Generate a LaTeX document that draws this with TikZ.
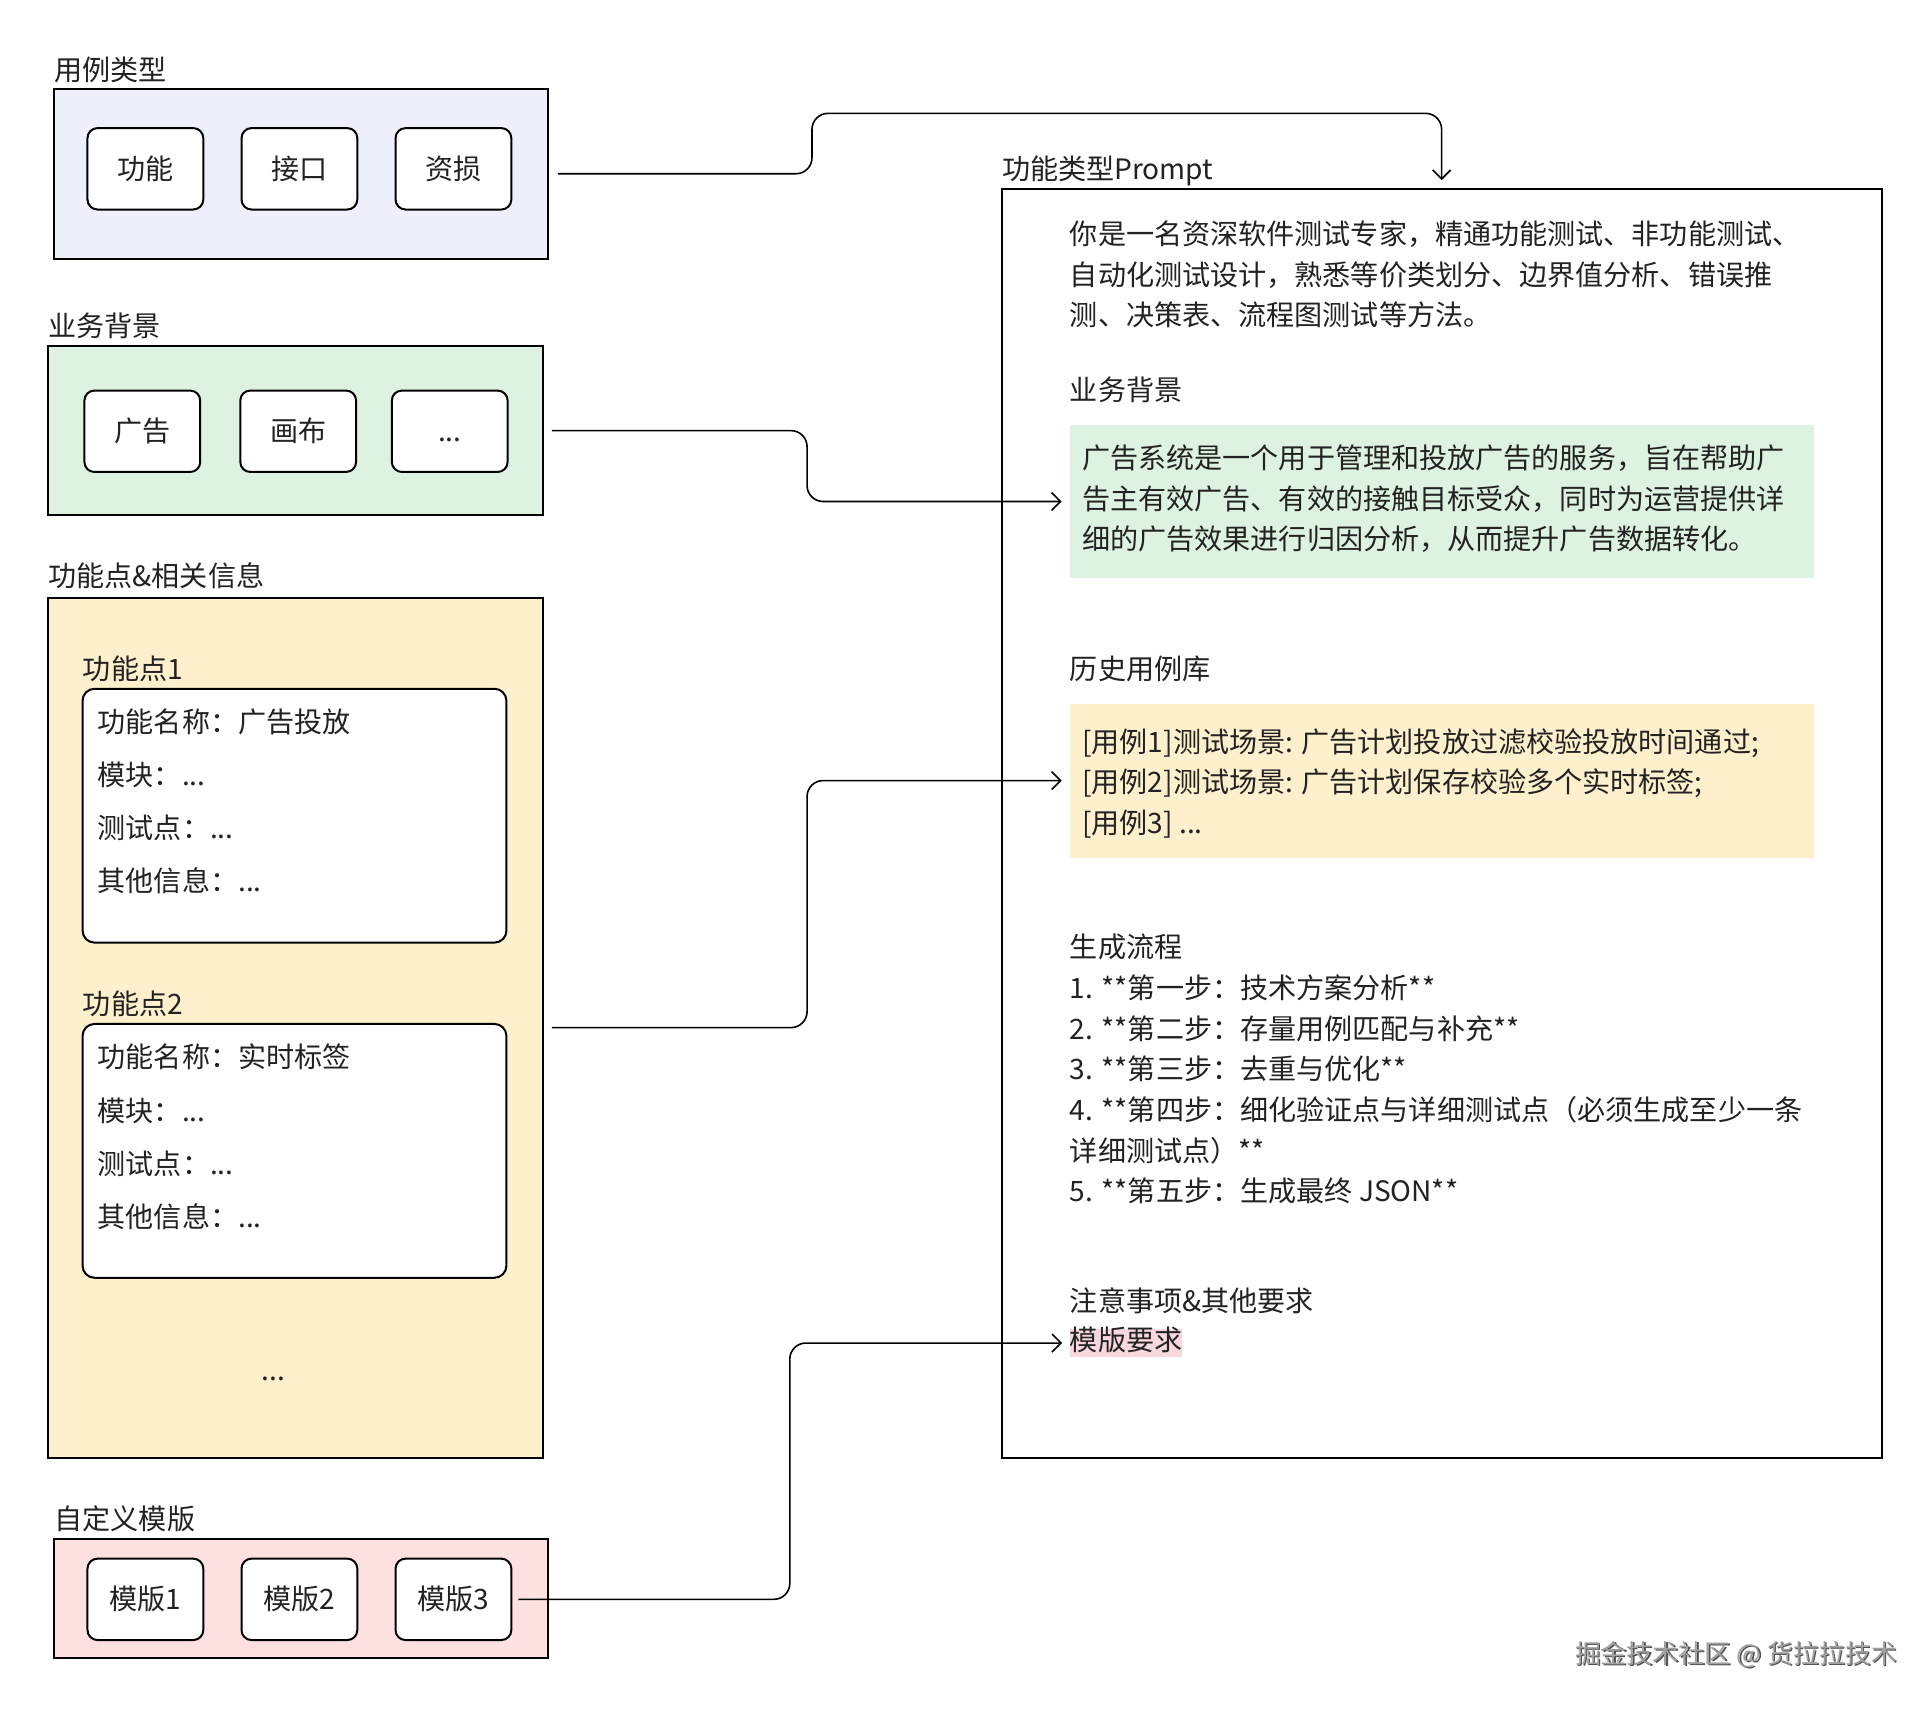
\documentclass[tikz,border=0pt]{standalone}
\usepackage{fontspec}
\setmainfont{Noto Sans CJK SC}
\usetikzlibrary{fit,calc,arrows.meta}
\definecolor{bluef}{HTML}{EDF0FA}
\definecolor{greenf}{HTML}{DDF2E0}
\definecolor{yellowf}{HTML}{FEF0CC}
\definecolor{pinkf}{HTML}{FDE0E0}
\definecolor{hlpink}{HTML}{F8D8DC}
\definecolor{txtc}{HTML}{222222}
\definecolor{footc}{HTML}{A0A0A0}
\definecolor{foots}{HTML}{505050}
\begin{document}
\begin{tikzpicture}[x=0.6161pt,y=-0.6161pt,
  txt/.style={font=\fontsize{14.05}{16}\selectfont, text=txtc, inner sep=0, text height=1.1em, text depth=0.07em, anchor=west},
  group/.style={draw=black, line width=1pt, inner sep=0},
  item/.style={draw=black, line width=1pt, fill=white, rounded corners=5pt, inner sep=0, minimum width=57.9pt, minimum height=40.7pt, font=\fontsize{14.05}{16}\selectfont, text=txtc, text height=1.1em, text depth=0.07em},
  fbox/.style={draw=black, line width=1pt, fill=white, rounded corners=6pt, inner sep=0},
  conn/.style={draw=black, line width=0.8pt, rounded corners=8pt, -{Straight Barb[length=4.5pt,width=9pt]}}
]
\fill[white] (0,0) rectangle (1568,1388);
\useasboundingbox (0,0) rectangle (1568,1388);

% left groups
\node[group, fill=bluef, fit={(44,72) (445,210)}] (A) {};
\node[group, fill=greenf, fit={(39,281) (441,418)}] (B) {};
\node[group, fill=yellowf, fit={(39,485) (441,1183)}] (C) {};
\node[group, fill=pinkf, fit={(44,1249) (445,1346)}] (D) {};

\node[txt] (tA) at (44,57) {用例类型};
\node[txt] (tB) at (39,265) {业务背景};
\node[txt] (tC) at (39,468) {功能点\&相关信息};
\node[txt] (tD) at (44,1233) {自定义模版};

\node[item] (a1) at (118,137) {功能};
\node[item] (a2) at (243,137) {接口};
\node[item] (a3) at (368,137) {资损};

\node[item] (b1) at (115.5,350) {广告};
\node[item] (b2) at (242,350) {画布};
\node[item] (b3) at (365,350) {...};

\node[item] (d1) at (118,1298) {模版1};
\node[item] (d2) at (243,1298) {模版2};
\node[item] (d3) at (368,1298) {模版3};

% function points
\node[txt] (f1) at (67,543) {功能点1};
\node[fbox, fit={(67,559) (411,765)}] (F1) {};
\node[txt] (f1a) at (79,586) {功能名称：广告投放};
\node[txt] (f1b) at (79,629) {模块：...};
\node[txt] (f1c) at (79,672) {测试点：...};
\node[txt] (f1d) at (79,715) {其他信息：...};

\node[txt] (f2) at (67,815) {功能点2};
\node[fbox, fit={(67,831) (411,1037)}] (F2) {};
\node[txt] (f2a) at (79,858) {功能名称：实时标签};
\node[txt] (f2b) at (79,902) {模块：...};
\node[txt] (f2c) at (79,945) {测试点：...};
\node[txt] (f2d) at (79,988) {其他信息：...};

\node[txt, anchor=center] (fd) at (222,1112) {...};

% prompt box
\node[group, fill=white, fit={(813,153) (1527,1183)}] (P) {};
\node[txt] (tP) at (813,137) {功能类型Prompt};

\node[txt] (p1) at (868,190) {你是一名资深软件测试专家，精通功能测试、非功能测试、};
\node[txt] (p2) at (868,223) {自动化测试设计，熟悉等价类划分、边界值分析、错误推};
\node[txt] (p3) at (868,256) {测、决策表、流程图测试等方法。};

\node[txt] (h1) at (868,317) {业务背景};
\node[fill=greenf, inner sep=0, fit={(868,345) (1472,469)}] (G) {};
\node[txt] (g1) at (878,372) {广告系统是一个用于管理和投放广告的服务，旨在帮助广};
\node[txt] (g2) at (878,405) {告主有效广告、有效的接触目标受众，同时为运营提供详};
\node[txt] (g3) at (878,438) {细的广告效果进行归因分析，从而提升广告数据转化。};

\node[txt] (h2) at (868,543) {历史用例库};
\node[fill=yellowf, inner sep=0, fit={(868,571) (1472,696)}] (Y) {};
\node[txt] (y1) at (878,602) {[用例1]测试场景: 广告计划投放过滤校验投放时间通过;};
\node[txt] (y2) at (878,635) {[用例2]测试场景: 广告计划保存校验多个实时标签;};
\node[txt] (y3) at (878,668) {[用例3] ...};

\node[txt] (h3) at (868,769) {生成流程};
\node[txt] (s1) at (868,802) {1. **第一步：技术方案分析**};
\node[txt] (s2) at (868,835) {2. **第二步：存量用例匹配与补充**};
\node[txt] (s3) at (868,868) {3. **第三步：去重与优化**};
\node[txt] (s4) at (868,901) {4. **第四步：细化验证点与详细测试点（必须生成至少一条};
\node[txt] (s5) at (868,934) {详细测试点）**};
\node[txt] (s6) at (868,967) {5. **第五步：生成最终 JSON**};

\node[txt] (h4) at (868,1056) {注意事项\&其他要求};
\node[txt, fill=hlpink, text height=0.83em, text depth=0.07em, inner ysep=2.4pt] (hl) at (868,1090) {模版要求};

% connectors
\draw[conn] ($(A.east)+(7,0)$) -- (659,141) -- (659,92) -- (1170,92) -- ([yshift=3.7pt]P.north);
\draw[conn] ($(B.east)+(6,0)$) -- (655,349.5) -- (655,407) -- ([xshift=-3.7pt]G.west);
\draw[conn] ($(C.east)+(6,0)$) -- (655,834) -- (655,633.5) -- ([xshift=-3.7pt]Y.west);
\draw[conn] ($(d3.east)+(5,0)$) -- (641,1298) -- (641,1090) -- ([xshift=-3.7pt]hl.west);

% footer
\node[font=\fontsize{13}{16}\selectfont, text=foots, inner sep=0] (fts) at (1410,1344) {掘金技术社区 @ 货拉拉技术};
\node[font=\fontsize{13}{16}\selectfont, text=footc, inner sep=0] (ft) at (1409,1343) {掘金技术社区 @ 货拉拉技术};
\end{tikzpicture}
\end{document}
